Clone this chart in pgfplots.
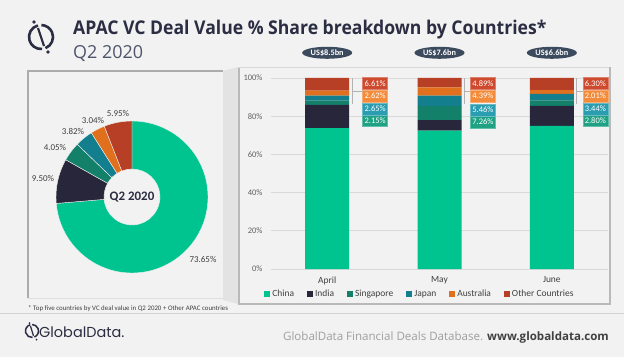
\documentclass[border=0pt]{standalone}
\usepackage{fontspec}
\usepackage{pgfplots}
\pgfplotsset{compat=1.18}
\usepackage{pgfplotstable}
\usetikzlibrary{calc,shapes.geometric}
\setmainfont{Carlito}
\newfontfamily\titlefont{Open Sans}
\newfontfamily\popfont{Poppins}

\definecolor{bg}{HTML}{F2F2F2}
\definecolor{cChina}{HTML}{00C48F}
\definecolor{cIndia}{HTML}{28263A}
\definecolor{cSing}{HTML}{138069}
\definecolor{cJapan}{HTML}{137E8E}
\definecolor{cAus}{HTML}{E06F1E}
\definecolor{cOther}{HTML}{B63F26}
\definecolor{bSing}{HTML}{1EA283}
\definecolor{bJapan}{HTML}{2B9DB1}
\definecolor{bAus}{HTML}{F48B3A}
\definecolor{bOther}{HTML}{CE4A2E}
\definecolor{navy}{HTML}{2B2D42}
\definecolor{slate}{HTML}{4E566B}
\definecolor{badge}{HTML}{3C4A5E}
\definecolor{txt}{HTML}{404040}

\pgfplotstableread{
x China India Singapore Japan Australia Other
0 73.75 12.23 2.15 2.65 2.62 6.61
1 72.43 5.57 7.26 5.46 4.39 4.89
2 74.93 10.52 2.80 3.44 2.01 6.30
}\bardata

% donut wedge: cumulative start, cumulative end (percent), colour
\newcommand\donutwedge[3]{%
  \fill[#3, draw=bg, line width=0.4bp]
    ($(axis cs:0,0)+({90-3.6*#1}:76bp)$)
    arc[start angle={90-3.6*#1}, end angle={90-3.6*#2}, radius=76bp]
    -- ($(axis cs:0,0)+({90-3.6*#2}:28bp)$)
    arc[start angle={90-3.6*#2}, end angle={90-3.6*#1}, radius=28bp]
    -- cycle;}

\begin{document}
\begin{tikzpicture}[x=1bp,y=1bp]
\fill[bg] (0,0) rectangle (624,357);
\coordinate (donutpos) at (132,160);
\coordinate (barpos) at (271,88);

% header logo
\draw[navy, line width=2.6bp] (41,320) ++(105:12) arc[start angle=105, end angle=275, radius=12];
\draw[navy, line width=2.6bp] (41,320) ++(292:12) arc[start angle=292, end angle=448, radius=12];
\draw[navy, line width=2.2bp] (38,329) -- (44,311);
\fill[navy] (34,335) circle (1.8);
\fill[navy] (48,305) circle (1.8);

% title
\node[anchor=base west, inner sep=0, xscale=0.93, text=navy, font=\titlefont\bfseries\fontsize{19}{22}\selectfont] at (73,322.5) {APAC VC Deal Value \% Share breakdown by Countries*};
\node[anchor=base west, inner sep=0, text=slate, font=\titlefont\fontsize{18}{21}\selectfont] at (73,298.5) {Q2 2020};

% left panel frame
\draw[gray!25, line width=1bp] (223,286) -- (223,59) -- (28,59);
\draw[gray!65, line width=2bp] (28,59) -- (28,286) -- (223,286);

% right panel frame
\fill[gray!22] (223,286) -- (238,290) -- (238,53) -- (223,57) -- cycle;
\draw[gray!55, line width=1.2bp] (239,290) -- (239,53);
\draw[gray!30, line width=1bp] (238,290) -- (610,290);
\draw[gray!55, line width=1.6bp] (610,290) -- (610,53) -- (238,53);

% donut
\begin{axis}[at={(donutpos)}, anchor=center, width=152bp, height=152bp,
  scale only axis, hide axis, xmin=-1, xmax=1, ymin=-1, ymax=1, clip=false]
\donutwedge{0}{73.65}{cChina}
\donutwedge{73.65}{83.15}{cIndia}
\donutwedge{83.15}{87.20}{cSing}
\donutwedge{87.20}{91.02}{cJapan}
\donutwedge{91.02}{94.06}{cAus}
\donutwedge{94.06}{100.01}{cOther}
\end{axis}
\node[font=\bfseries\fontsize{13}{15}\selectfont, text=navy] at (132,160) {Q2 2020};
\begin{scope}[every node/.style={font=\fontsize{9}{10}\selectfont, text=txt, inner sep=0}]
\node at (203,98) {73.65\%};
\node at (43,179) {9.50\%};
\node at (55,210) {4.05\%};
\node at (73,226) {3.82\%};
\node at (93,237) {3.04\%};
\node at (118,244) {5.95\%};
\end{scope}

% stacked bars
\begin{axis}[at={(barpos)}, anchor=south west, width=337bp, height=191bp,
  scale only axis, ybar stacked, bar width=44bp,
  xmin=-0.5, xmax=2.5, ymin=0, ymax=100,
  xtick={0,1,2}, xticklabels={April,May,June},
  ytick={0,20,40,60,80,100},
  yticklabel={\pgfmathprintnumber{\tick}\%},
  /pgf/number format/assume math mode=true,
  ymajorgrids, grid style={draw=gray!30, line width=0.7bp},
  axis line style={draw=none}, major tick length=0pt, tick style={draw=none},
  xticklabel style={font=\fontsize{9.5}{11}\selectfont, text=txt, yshift=-4bp},
  yticklabel style={font=\fontsize{8.5}{9}\selectfont, text=gray!75!black, xshift=-5bp},
  clip=false,
  legend columns=6,
  legend image code/.code={\fill[#1, draw=none] (0bp,-3bp) rectangle (6bp,3bp);},
  legend style={at={(0.442,-0.133)}, anchor=center, draw=none, fill=none,
    font=\fontsize{9.5}{10}\selectfont, text=txt,
    /tikz/every even column/.append style={column sep=11bp}},
]
\addplot[fill=cChina, draw=none] table[x=x, y=China] {\bardata};
\addplot[fill=cIndia, draw=none] table[x=x, y=India] {\bardata};
\addplot[fill=cSing, draw=none] table[x=x, y=Singapore] {\bardata};
\addplot[fill=cJapan, draw=none] table[x=x, y=Japan] {\bardata};
\addplot[fill=cAus, draw=none] table[x=x, y=Australia] {\bardata};
\addplot[fill=cOther, draw=none] table[x=x, y=Other] {\bardata};
\legend{China, India, Singapore, Japan, Australia, Other Countries}

% in-bar labels
\node[font=\fontsize{9}{10}\selectfont, text=navy] at (axis cs:0,36.875) {73.75\%};
\node[font=\fontsize{9}{10}\selectfont, text=navy] at (axis cs:1,36.215) {72.43\%};
\node[font=\fontsize{9}{10}\selectfont, text=navy] at (axis cs:2,37.465) {74.93\%};
\node[font=\fontsize{9}{10}\selectfont, text=white!88!black] at (axis cs:0,79.865) {12.23\%};
\node[font=\fontsize{9}{10}\selectfont, text=white!88!black] at (axis cs:1,75.215) {5.57\%};
\node[font=\fontsize{9}{10}\selectfont, text=white!88!black] at (axis cs:2,80.19) {10.52\%};

% leader lines
\draw[gray!60, line width=0.8bp] (axis cs:0.222,99.8) -- (axis cs:0.222,86.3);
\draw[gray!60, line width=0.8bp] (axis cs:0.222,93.2) -- (axis cs:0.32,93.2);
\draw[gray!60, line width=0.8bp] (axis cs:1.218,99.8) -- (axis cs:1.218,86.3);
\draw[gray!60, line width=0.8bp] (axis cs:1.218,93.2) -- (axis cs:1.271,93.2);
\draw[gray!60, line width=0.8bp] (axis cs:2.219,99.8) -- (axis cs:2.219,86.3);
\draw[gray!60, line width=0.8bp] (axis cs:2.219,93.2) -- (axis cs:2.273,93.2);

% callout boxes
\tikzset{cbox/.style={minimum width=25bp, minimum height=12bp, inner sep=0,
  text=white, font=\fontsize{8.5}{9}\selectfont, line width=0.6bp}}
\node[cbox, fill=bOther, draw=bOther!70!white] at (axis cs:0.427,97.2) {6.61\%};
\node[cbox, fill=bAus, draw=bAus!70!white] at (axis cs:0.427,90.5) {2.62\%};
\node[cbox, fill=bJapan, draw=bJapan!70!white] at (axis cs:0.427,83.7) {2.65\%};
\node[cbox, fill=bSing, draw=bSing!70!white] at (axis cs:0.427,77.6) {2.15\%};
\node[cbox, fill=bOther, draw=bOther!70!white] at (axis cs:1.387,97.2) {4.89\%};
\node[cbox, fill=bAus, draw=bAus!70!white] at (axis cs:1.387,90.5) {4.39\%};
\node[cbox, fill=bJapan, draw=bJapan!70!white] at (axis cs:1.387,83.2) {5.46\%};
\node[cbox, fill=bSing, draw=bSing!70!white] at (axis cs:1.387,76.9) {7.26\%};
\node[cbox, fill=bOther, draw=bOther!70!white] at (axis cs:2.387,97.2) {6.30\%};
\node[cbox, fill=bAus, draw=bAus!70!white] at (axis cs:2.387,90.5) {2.01\%};
\node[cbox, fill=bJapan, draw=bJapan!70!white] at (axis cs:2.387,83.7) {3.44\%};
\node[cbox, fill=bSing, draw=bSing!70!white] at (axis cs:2.387,77.6) {2.80\%};

% value badges
\tikzset{badge/.style={ellipse, fill=badge, minimum width=50bp, minimum height=12bp,
  inner sep=0, text=white, font=\bfseries\fontsize{8.3}{9}\selectfont}}
\node[badge] at (axis cs:0,113.2) {US\$8.5bn};
\node[badge] at (axis cs:1,113.2) {US\$7.6bn};
\node[badge] at (axis cs:2,113.2) {US\$6.6bn};
\end{axis}

% footnote and footer
\node[anchor=base west, inner sep=0, text=txt, font=\fontsize{6.9}{8}\selectfont] at (28,47) {* Top five countries by VC deal value in Q2 2020 + Other APAC countries};
\draw[gray!35, line width=0.8bp] (0,44) -- (624,44);

\draw[navy, line width=1.5bp] (32,26) ++(105:6.5) arc[start angle=105, end angle=275, radius=6.5];
\draw[navy, line width=1.5bp] (32,26) ++(292:6.5) arc[start angle=292, end angle=448, radius=6.5];
\draw[navy, line width=1.2bp] (30.5,31) -- (33.5,21);
\fill[navy] (29.5,34) circle (1);
\fill[navy] (36.5,17.5) circle (1);
\node[anchor=base west, inner sep=0, text=navy, font=\popfont\fontsize{14.5}{16}\selectfont] at (39,20) {GlobalData.};

\node[anchor=base east, inner sep=0, font=\titlefont\fontsize{11.6}{13}\selectfont] at (609,16.5)
  {\textcolor{gray!75}{GlobalData Financial Deals Database.} \textcolor{txt}{\bfseries www.globaldata.com}};

\pgfresetboundingbox
\useasboundingbox (0,0) rectangle (624,357);
\end{tikzpicture}
\end{document}
